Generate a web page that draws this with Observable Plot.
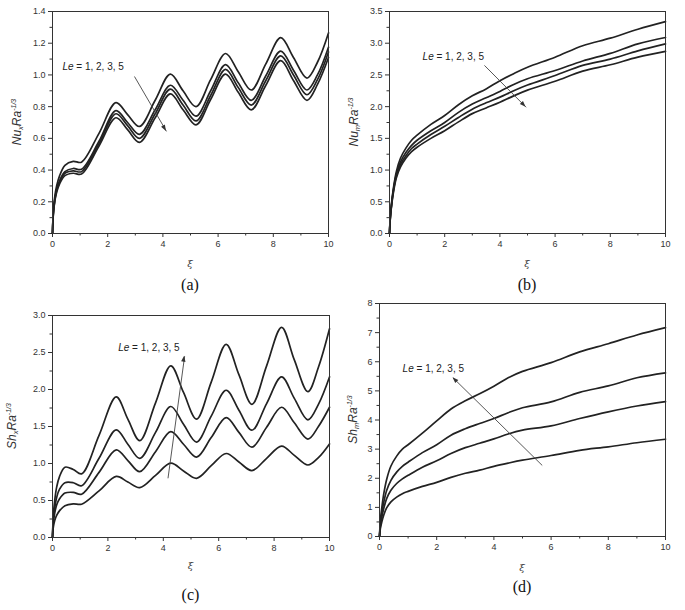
<!DOCTYPE html>
<html><head><meta charset="utf-8">
<script src="https://cdn.jsdelivr.net/npm/d3@7"></script>
<script src="https://cdn.jsdelivr.net/npm/@observablehq/plot@0.6"></script>
<style>
body{margin:0;background:#fff;}
#wrap{position:relative;width:685px;height:610px;background:#fff;overflow:hidden}
.p{position:absolute}
</style></head><body><div id="wrap"></div>
<script>
// shared x (ξ) sample positions
const xOsc = [0, 0.03, 0.08, 0.15, 0.25, 0.45, 0.75, 1.05, 1.68, 2.3, 2.72, 3.15, 3.72, 4.27, 4.73, 5.2, 5.73, 6.27, 6.73, 7.2, 7.73, 8.27, 8.73, 9.22, 9.6, 10];
const xMono = [0, 0.03, 0.08, 0.15, 0.25, 0.4, 0.6, 0.8, 1, 1.5, 2, 2.5, 3, 3.5, 4, 4.5, 5, 6, 7, 8, 9, 10];
const leValues = [1, 2, 3, 5];

// (a) Nu_x Ra^-1/3
const aLe1 = [0, 0.14, 0.23, 0.30, 0.36, 0.43, 0.455, 0.45, 0.63, 0.825, 0.75, 0.675, 0.84, 1.005, 0.90, 0.80, 0.97, 1.135, 1.02, 0.905, 1.07, 1.235, 1.11, 0.98, 1.08, 1.265];
const aLe2 = [0, 0.13, 0.21, 0.28, 0.33, 0.39, 0.41, 0.405, 0.58, 0.775, 0.70, 0.625, 0.78, 0.935, 0.84, 0.74, 0.90, 1.065, 0.95, 0.84, 0.995, 1.15, 1.03, 0.905, 1.0, 1.175];
const aLe3 = [0, 0.125, 0.205, 0.27, 0.32, 0.38, 0.395, 0.39, 0.565, 0.755, 0.68, 0.60, 0.755, 0.91, 0.81, 0.71, 0.87, 1.035, 0.92, 0.81, 0.965, 1.12, 1.00, 0.875, 0.97, 1.145];
const aLe5 = [0, 0.12, 0.20, 0.26, 0.31, 0.365, 0.38, 0.375, 0.55, 0.73, 0.655, 0.575, 0.73, 0.88, 0.78, 0.685, 0.845, 1.005, 0.89, 0.78, 0.935, 1.09, 0.965, 0.84, 0.94, 1.11];

// (b) Nu_m Ra^-1/3
const bLe1 = [0, 0.27, 0.5, 0.74, 0.98, 1.19, 1.35, 1.47, 1.55, 1.72, 1.86, 2.03, 2.17, 2.28, 2.41, 2.52, 2.62, 2.78, 2.96, 3.08, 3.22, 3.34];
const bLe2 = [0, 0.26, 0.48, 0.71, 0.94, 1.13, 1.28, 1.39, 1.47, 1.62, 1.75, 1.91, 2.04, 2.14, 2.24, 2.35, 2.44, 2.57, 2.72, 2.84, 2.99, 3.09];
const bLe3 = [0, 0.25, 0.47, 0.69, 0.91, 1.09, 1.23, 1.34, 1.41, 1.56, 1.69, 1.83, 1.96, 2.06, 2.15, 2.25, 2.34, 2.49, 2.65, 2.75, 2.88, 2.99];
const bLe5 = [0, 0.24, 0.46, 0.67, 0.88, 1.05, 1.19, 1.29, 1.36, 1.50, 1.62, 1.76, 1.89, 1.98, 2.07, 2.17, 2.26, 2.40, 2.56, 2.66, 2.78, 2.87];

// (c) Sh_x Ra^-1/3
const cLe1 = [0, 0.14, 0.23, 0.30, 0.36, 0.43, 0.455, 0.45, 0.63, 0.825, 0.75, 0.675, 0.84, 1.005, 0.90, 0.80, 0.97, 1.135, 1.02, 0.905, 1.07, 1.235, 1.11, 0.98, 1.08, 1.265];
const cLe2 = [0, 0.20, 0.33, 0.44, 0.52, 0.60, 0.61, 0.585, 0.88, 1.185, 1.04, 0.89, 1.16, 1.43, 1.26, 1.085, 1.35, 1.62, 1.42, 1.22, 1.49, 1.76, 1.55, 1.33, 1.50, 1.76];
const cLe3 = [0, 0.25, 0.40, 0.54, 0.65, 0.74, 0.74, 0.70, 1.07, 1.455, 1.26, 1.07, 1.42, 1.77, 1.53, 1.29, 1.64, 1.99, 1.72, 1.45, 1.81, 2.17, 1.88, 1.59, 1.80, 2.17];
const cLe5 = [0, 0.30, 0.50, 0.68, 0.82, 0.95, 0.92, 0.86, 1.38, 1.90, 1.60, 1.31, 1.82, 2.32, 1.96, 1.60, 2.10, 2.61, 2.20, 1.80, 2.32, 2.84, 2.40, 1.97, 2.30, 2.82];

// (d) Sh_m Ra^-1/3
const dLe1 = [0, 0.27, 0.5, 0.74, 0.98, 1.19, 1.35, 1.47, 1.55, 1.72, 1.86, 2.03, 2.17, 2.28, 2.41, 2.52, 2.62, 2.78, 2.96, 3.08, 3.22, 3.34];
const dLe2 = [0, 0.36, 0.66, 0.97, 1.30, 1.59, 1.82, 1.98, 2.10, 2.38, 2.60, 2.85, 3.05, 3.20, 3.35, 3.52, 3.65, 3.80, 4.05, 4.28, 4.48, 4.63];
const dLe3 = [0, 0.43, 0.80, 1.18, 1.58, 1.93, 2.21, 2.41, 2.55, 2.88, 3.15, 3.48, 3.70, 3.88, 4.05, 4.25, 4.42, 4.62, 4.95, 5.17, 5.45, 5.62];
const dLe5 = [0, 0.54, 0.98, 1.47, 1.96, 2.42, 2.76, 3.00, 3.15, 3.55, 3.97, 4.38, 4.66, 4.90, 5.16, 5.45, 5.67, 5.97, 6.34, 6.62, 6.92, 7.17];

// tick values
const xMajor = [0, 2, 4, 6, 8, 10];
const xMinor = [1, 3, 5, 7, 9];
const aTicks = [0, 0.2, 0.4, 0.6, 0.8, 1.0, 1.2, 1.4];
const aMinor = [0.1, 0.3, 0.5, 0.7, 0.9, 1.1, 1.3];
const bTicks = [0, 0.5, 1.0, 1.5, 2.0, 2.5, 3.0, 3.5];
const bMinor = [0.25, 0.75, 1.25, 1.75, 2.25, 2.75, 3.25];
const cTicks = [0, 0.5, 1.0, 1.5, 2.0, 2.5, 3.0];
const cMinor = [0.25, 0.75, 1.25, 1.75, 2.25, 2.75];
const dTicks = [0, 1, 2, 3, 4, 5, 6, 7, 8];
const dMinor = [0.5, 1.5, 2.5, 3.5, 4.5, 5.5, 6.5, 7.5];

const annoText = " = 1, 2, 3, 5";

const panels = [
  {cap: "(a)", left: 0, top: 0, width: 342, height: 300, ml: 52, mr: 14, mt: 11, mb: 67,
   xs: xOsc, series: [aLe1, aLe2, aLe3, aLe5], yDomain: [0, 1.4], yTicks: aTicks, yMinor: aMinor, fmt: ".1f",
   yl: ["Nu", "x"], labelX: 18, xiY: 267, capY: 290,
   anno: {x: 1.49, y: 1.05}, arrow: {x1: 2.97, y1: 0.99, x2: 4.13, y2: 0.644}},
  {cap: "(b)", left: 342, top: 0, width: 343, height: 300, ml: 47, mr: 20, mt: 11, mb: 67,
   xs: xMono, series: [bLe1, bLe2, bLe3, bLe5], yDomain: [0, 3.5], yTicks: bTicks, yMinor: bMinor, fmt: ".1f",
   yl: ["Nu", "m"], labelX: 13, xiY: 267, capY: 290,
   anno: {x: 2.33, y: 2.77}, arrow: {x1: 3.44, y1: 2.65, x2: 4.95, y2: 1.99}},
  {cap: "(c)", left: 0, top: 300, width: 342, height: 310, ml: 52, mr: 13, mt: 15, mb: 73,
   xs: xOsc, series: [cLe1, cLe2, cLe3, cLe5], yDomain: [0, 3.0], yTicks: cTicks, yMinor: cMinor, fmt: ".1f",
   yl: ["Sh", "x"], labelX: 13, xiY: 269, capY: 300,
   anno: {x: 3.5, y: 2.56}, arrow: {x1: 4.17, y1: 0.80, x2: 4.77, y2: 2.45}},
  {cap: "(d)", left: 342, top: 300, width: 343, height: 310, ml: 37, mr: 20, mt: 3, mb: 74,
   xs: xMono, series: [dLe1, dLe2, dLe3, dLe5], yDomain: [0, 8], yTicks: dTicks, yMinor: dMinor, fmt: "d",
   yl: ["Sh", "m"], labelX: 12, xiY: 271, capY: 292,
   anno: {x: 1.9, y: 5.72}, arrow: {x1: 5.69, y1: 2.44, x2: 2.57, y2: 5.45}}
];

const wrap = d3.select("#wrap");
const ink = "#222";
const sans = "'Liberation Sans', Arial, sans-serif";

for (const p of panels) {
  const rows = [];
  p.series.forEach((vals, k) => vals.forEach((v, i) => rows.push({xi: p.xs[i], v, le: leValues[k]})));
  const plot = Plot.plot({
    width: p.width, height: p.height,
    marginLeft: p.ml, marginRight: p.mr, marginTop: p.mt, marginBottom: p.mb,
    style: {fontFamily: sans, fontSize: "9px", color: "#333", background: "transparent", overflow: "visible"},
    x: {domain: [0, 10]},
    y: {domain: p.yDomain},
    marks: [
      Plot.axisX(xMajor, {tickSize: 4, tickPadding: 3, label: null, tickFormat: "d"}),
      Plot.axisX(xMinor, {tickSize: 2.5, fill: "none", label: null}),
      Plot.axisY(p.yTicks, {tickSize: 4, tickPadding: 3, label: null, tickFormat: p.fmt}),
      Plot.axisY(p.yMinor, {tickSize: 2.5, fill: "none", label: null}),
      Plot.line(rows, {x: "xi", y: "v", z: "le", curve: "catmull-rom", stroke: ink, strokeWidth: 1.7}),
      Plot.link([p.arrow], {x1: "x1", y1: "y1", x2: "x2", y2: "y2", stroke: "#444", strokeWidth: 0.9}),
      Plot.frame({stroke: "#333", strokeWidth: 1})
    ]
  });
  const div = wrap.append("div").attr("class", "p").style("left", p.left + "px").style("top", p.top + "px");
  div.node().appendChild(plot);
  const svg = d3.select(plot);
  const sx = plot.scale("x"), sy = plot.scale("y");
  const cx = (p.ml + p.width - p.mr) / 2;
  const cy = (p.mt + p.height - p.mb) / 2;
  // filled arrowhead at the arrow's end, placed through the plot scales
  const X1 = sx.apply(p.arrow.x1), Y1 = sy.apply(p.arrow.y1);
  const X2 = sx.apply(p.arrow.x2), Y2 = sy.apply(p.arrow.y2);
  const ang = Math.atan2(Y2 - Y1, X2 - X1) * 180 / Math.PI;
  svg.append("path").attr("d", "M0,0L-6,-2.2L-6,2.2Z").attr("fill", "#333")
    .attr("transform", `translate(${X2},${Y2}) rotate(${ang})`);
  // y label with sub/superscript
  const t = svg.append("text")
    .attr("transform", `translate(${p.labelX},${cy}) rotate(-90)`)
    .attr("text-anchor", "middle")
    .attr("dominant-baseline", "middle")
    .attr("fill", "#333")
    .style("font-family", sans)
    .style("font-size", "12px")
    .style("font-style", "italic");
  t.append("tspan").text(p.yl[0]);
  t.append("tspan").attr("dy", 2.5).style("font-size", "7.5px").text(p.yl[1]);
  t.append("tspan").attr("dy", -2.5).text("Ra");
  t.append("tspan").attr("dy", -4.5).style("font-size", "7px").text("-1/3");
  // ξ label
  svg.append("text").attr("x", cx).attr("y", p.xiY).attr("text-anchor", "middle")
    .attr("fill", "#444").style("font-family", "'DejaVu Serif', serif").style("font-size", "10px").style("font-style", "italic").text("ξ");
  // caption
  svg.append("text").attr("x", cx).attr("y", p.capY).attr("text-anchor", "middle")
    .attr("fill", "#111").style("font-family", "'Liberation Serif', 'DejaVu Serif', serif").style("font-size", "16px").text(p.cap);
  // annotation
  const a = svg.append("text").attr("x", sx.apply(p.anno.x)).attr("y", sy.apply(p.anno.y))
    .attr("dominant-baseline", "middle").attr("fill", "#222")
    .style("font-family", sans).style("font-size", "10px");
  a.append("tspan").style("font-style", "italic").text("Le");
  a.append("tspan").text(annoText);
}
</script></body></html>
